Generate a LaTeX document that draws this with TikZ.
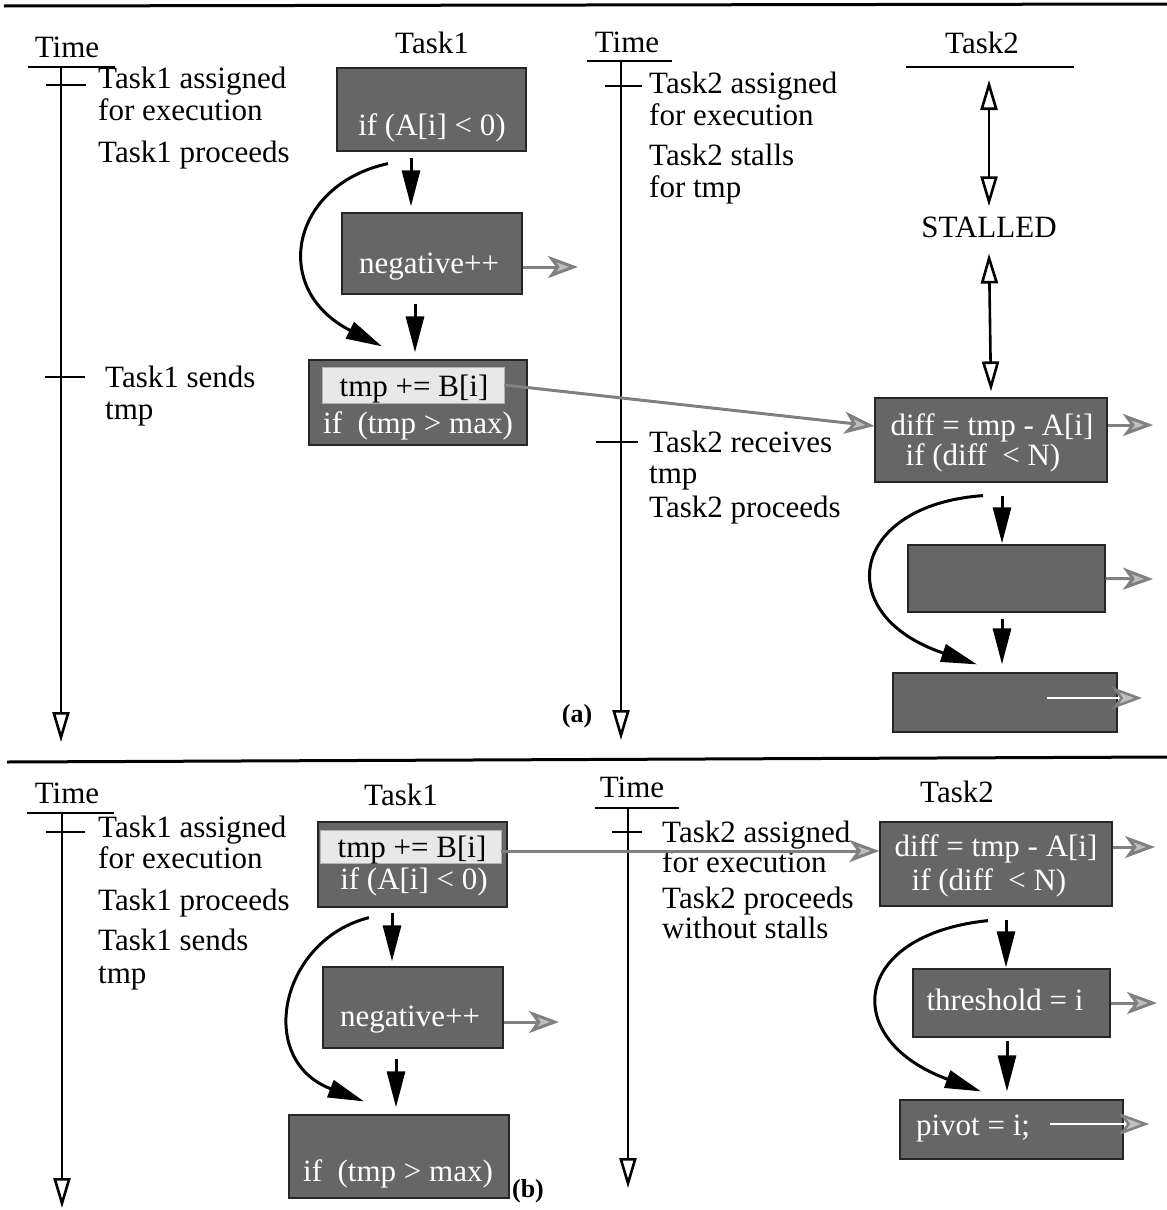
\documentclass[tikz,border=0pt]{standalone}
\usepackage{fontspec}
\setmainfont{Liberation Serif}
\usetikzlibrary{arrows.meta,calc}
\begin{document}
\begin{tikzpicture}[x=1pt,y=-1pt,
  lbl/.style={font=\fontsize{31pt}{32pt}\selectfont, inner sep=0pt, anchor=base west},
  ttl/.style={font=\fontsize{31pt}{32pt}\selectfont, inner sep=0pt, anchor=base},
  btxt/.style={font=\fontsize{31pt}{32pt}\selectfont, inner sep=0pt, anchor=base, text=white},
  ltxt/.style={btxt, text=black},
  cbox/.style={draw=black!85, fill=black!60, line width=1.2pt, inner sep=0pt},
  lbox/.style={draw=black!30, fill=black!9, line width=0.8pt, inner sep=0pt},
  rulel/.style={line width=3pt},
  tickl/.style={line width=2.6pt},
  axisl/.style={line width=2.6pt, -{Triangle[open,length=30pt,width=17pt]}},
  blk/.style={line width=3pt, -{Triangle[length=36pt,width=18pt]}},
  gry/.style={draw=black!50, line width=3pt, -{Stealth[length=30pt,width=22pt,inset=8pt,fill=black!25]}},
  wht/.style={draw=white, line width=2.5pt, -{Stealth[length=30pt,width=22pt,inset=8pt,fill=black!25,color=black!50]}},
  dbl/.style={line width=2.6pt, {Triangle[open,length=30pt,width=17pt]}-{Triangle[open,length=30pt,width=17pt]}},
]
\useasboundingbox (0,0) rectangle (1167,1210);

% separators
\coordinate (r1a) at (4,6); \coordinate (r1b) at (1167,4);
\coordinate (r2a) at (7,762); \coordinate (r2b) at (1167,757);
\draw[rulel] (r1a) -- (r1b);
\draw[rulel] (r2a) -- (r2b);

% ================= (a) =================
% time axis 1
\node[ttl] (ta1) at (67,57) {Time};
\coordinate (ua1l) at (28,67); \coordinate (ua1r) at (115,67);
\draw[tickl] (ua1l) -- (ua1r);
\coordinate (ax1t) at (61,67); \coordinate (ax1b) at (61,742);
\draw[axisl] (ax1t) -- (ax1b);
\coordinate (k1l) at (46,85); \coordinate (k1r) at (86,85);
\draw[tickl] (k1l) -- (k1r);
\coordinate (k2l) at (45,377); \coordinate (k2r) at (85,377);
\draw[tickl] (k2l) -- (k2r);
\node[lbl] (la1) at (98,88) {Task1 assigned};
\node[lbl] (la2) at (98,120) {for execution};
\node[lbl] (la3) at (98,162) {Task1 proceeds};
\node[lbl] (la4) at (105,387) {Task1 sends};
\node[lbl] (la5) at (105,419) {tmp};

% Task1 column
\node[ttl] (T1a) at (432,53) {Task1};
\node[cbox, minimum width=189pt, minimum height=83pt] (A1) at (431.5,109.5) {};
\node[btxt] (tA1) at (432,135) {if (A[i] < 0)};
\node[cbox, minimum width=180pt, minimum height=81pt] (A2) at (432,253.5) {};
\node[btxt] (tA2) at (429,273) {negative++};
\node[cbox, minimum width=218pt, minimum height=85pt] (A3) at (418,402.5) {};
\node[lbox, minimum width=182pt, minimum height=36pt] (L1) at (413,385) {};
\node[ltxt] (tL1) at (414,396) {tmp += B[i]};
\node[btxt] (tA3) at (418,433) {if\ \ (tmp > max)};

\draw[blk] ([xshift=-20.5pt,yshift=-6pt]A1.south) -- ([xshift=-21pt,yshift=6pt]A2.north);
\draw[blk] ([xshift=-17pt,yshift=-9pt]A2.south) -- ([xshift=-3pt,yshift=7pt]A3.north);
\draw[blk] ([xshift=-43.5pt,yshift=-12pt]A1.south) .. controls (290,185) and (270,290) .. ([xshift=-36pt,yshift=13pt]A3.north);
\coordinate (gA2) at (578,267);
\draw[gry] ([yshift=-13.5pt]A2.east) -- (gA2);

% time axis 2
\node[ttl] (ta2) at (627,52) {Time};
\coordinate (ua2l) at (587,61); \coordinate (ua2r) at (672,61);
\draw[tickl] (ua2l) -- (ua2r);
\coordinate (ax2t) at (621,61); \coordinate (ax2b) at (621,740);
\draw[axisl] (ax2t) -- (ax2b);
\coordinate (k3l) at (605,86); \coordinate (k3r) at (642,86);
\draw[tickl] (k3l) -- (k3r);
\coordinate (k4l) at (596,442); \coordinate (k4r) at (638,442);
\draw[tickl] (k4l) -- (k4r);
\node[lbl] (lb1) at (649,93) {Task2 assigned};
\node[lbl] (lb2) at (649,125) {for execution};
\node[lbl] (lb3) at (649,165) {Task2 stalls};
\node[lbl] (lb4) at (649,197) {for tmp};
\node[lbl] (lb5) at (649,452) {Task2 receives};
\node[lbl] (lb6) at (649,483) {tmp};
\node[lbl] (lb7) at (649,517) {Task2 proceeds};

% Task2 column
\node[ttl] (T2a) at (982,53) {Task2};
\coordinate (u2l) at (906,67); \coordinate (u2r) at (1074,67);
\draw[tickl] (u2l) -- (u2r);
\node[ttl] (STL) at (989,237) {STALLED};
\coordinate (u2m) at (989,80);
\draw[dbl] (u2m) -- ([yshift=10pt]STL.north);
\node[cbox, minimum width=232pt, minimum height=84pt] (B1) at (991,440) {};
\node[btxt] (tB1a) at (992,435) {diff = tmp - A[i]};
\node[btxt] (tB1b) at (983,465) {if (diff\ \ < N)};
\draw[dbl] ([yshift=-16pt]STL.south) -- ([yshift=6pt]B1.north);
\node[cbox, minimum width=197pt, minimum height=67pt] (B2) at (1006.5,578.5) {};
\node[cbox, minimum width=224pt, minimum height=59pt] (B3) at (1005,702.5) {};

\draw[gry] (L1.east) -- ([yshift=14pt]B1.west);
\coordinate (gB1) at (1153,425);
\draw[gry] ([yshift=15pt]B1.east) -- (gB1);
\coordinate (gB2) at (1153,579);
\draw[gry] (B2.east) -- (gB2);
\draw[blk] ([xshift=11pt,yshift=-13pt]B1.south) -- ([xshift=-4.5pt,yshift=1pt]B2.north);
\draw[blk] ([xshift=-4.5pt,yshift=-6pt]B2.south) -- ([xshift=-3pt,yshift=8pt]B3.north);
\draw[blk] ([xshift=-8pt,yshift=-13pt]B1.south) .. controls (850,505) and (830,615) .. ([xshift=-28pt,yshift=8pt]B3.north);
\coordinate (wB3a) at (1047,698); \coordinate (wB3b) at (1142,698);
\draw[wht] (wB3a) -- (wB3b);

\node[ttl, font=\fontsize{26pt}{28pt}\selectfont\bfseries] (capa) at (577,722) {(a)};

% ================= (b) =================
\node[ttl] (tb1) at (67,803) {Time};
\coordinate (ub1l) at (27,813); \coordinate (ub1r) at (114,813);
\draw[tickl] (ub1l) -- (ub1r);
\coordinate (bx1t) at (62,813); \coordinate (bx1b) at (62,1208);
\draw[axisl] (bx1t) -- (bx1b);
\coordinate (k5l) at (46,832); \coordinate (k5r) at (85,832);
\draw[tickl] (k5l) -- (k5r);
\node[lbl] (lc1) at (98,837) {Task1 assigned};
\node[lbl] (lc2) at (98,868) {for execution};
\node[lbl] (lc3) at (98,910) {Task1 proceeds};
\node[lbl] (lc4) at (98,950) {Task1 sends};
\node[lbl] (lc5) at (98,983) {tmp};

\node[ttl] (T1b) at (401,805) {Task1};
\node[cbox, minimum width=189pt, minimum height=85pt] (C1) at (412.5,864.5) {};
\node[lbox, minimum width=181pt, minimum height=33pt] (L2) at (410.5,846.5) {};
\node[ltxt] (tL2) at (412,857) {tmp += B[i]};
\node[btxt] (tC1) at (414,889) {if (A[i] < 0)};
\node[cbox, minimum width=180pt, minimum height=81pt] (C2) at (413,1007.5) {};
\node[btxt] (tC2) at (410,1026) {negative++};
\node[cbox, minimum width=220pt, minimum height=83pt] (C3) at (399,1156.5) {};
\node[btxt] (tC3) at (398,1181) {if\ \ (tmp > max)};
\node[ttl, font=\fontsize{26pt}{28pt}\selectfont\bfseries] (capb) at (528,1197) {(b)};

\draw[blk] ([xshift=-20.5pt,yshift=-5pt]C1.south) -- ([xshift=-21pt,yshift=5pt]C2.north);
\draw[blk] ([xshift=-17pt,yshift=-10pt]C2.south) -- ([xshift=-3pt,yshift=7pt]C3.north);
\draw[blk] ([xshift=-43.5pt,yshift=-10pt]C1.south) .. controls (280,940) and (255,1060) .. ([xshift=-35pt,yshift=13pt]C3.north);
\coordinate (gC2) at (559,1022);
\draw[gry] ([yshift=-14.5pt]C2.east) -- (gC2);

\node[ttl] (tb2) at (632,797) {Time};
\coordinate (ub2l) at (595,808); \coordinate (ub2r) at (679,808);
\draw[tickl] (ub2l) -- (ub2r);
\coordinate (bx2t) at (628,808); \coordinate (bx2b) at (628,1188);
\draw[axisl] (bx2t) -- (bx2b);
\coordinate (k6l) at (612,832); \coordinate (k6r) at (642,832);
\draw[tickl] (k6l) -- (k6r);
\node[lbl] (ld1) at (662,842) {Task2 assigned};
\node[lbl] (ld2) at (662,872) {for execution};
\node[lbl] (ld3) at (662,908) {Task2 proceeds};
\node[lbl] (ld4) at (662,938) {without stalls};

\node[ttl] (T2b) at (957,802) {Task2};
\node[cbox, minimum width=232pt, minimum height=84pt] (D1) at (996,864) {};
\node[btxt] (tD1a) at (996,856) {diff = tmp - A[i]};
\node[btxt] (tD1b) at (989,890) {if (diff\ \ < N)};
\node[cbox, minimum width=197pt, minimum height=68pt] (D2) at (1011.5,1003) {};
\node[btxt] (tD2) at (1005,1010) {threshold = i};
\node[cbox, minimum width=223pt, minimum height=59pt] (D3) at (1011.5,1129.5) {};
\node[btxt] (tD3) at (973,1135) {pivot = i;};

\draw[gry] ([yshift=-4.5pt]L2.east) -- ([yshift=13pt]D1.west);
\coordinate (gD1) at (1155,847);
\draw[gry] ([yshift=17pt]D1.east) -- (gD1);
\coordinate (gD2) at (1157,1003);
\draw[gry] (D2.east) -- (gD2);
\draw[blk] ([xshift=10pt,yshift=-13pt]D1.south) -- ([xshift=-5.5pt,yshift=1pt]D2.north);
\draw[blk] ([xshift=-4.5pt,yshift=-3pt]D2.south) -- ([xshift=-4.5pt,yshift=8pt]D3.north);
\draw[blk] ([xshift=-8pt,yshift=-14pt]D1.south) .. controls (850,935) and (840,1040) .. ([xshift=-30.5pt,yshift=8pt]D3.north);
\coordinate (wD3a) at (1050,1124); \coordinate (wD3b) at (1149,1124);
\draw[wht] (wD3a) -- (wD3b);
\end{tikzpicture}
\end{document}
